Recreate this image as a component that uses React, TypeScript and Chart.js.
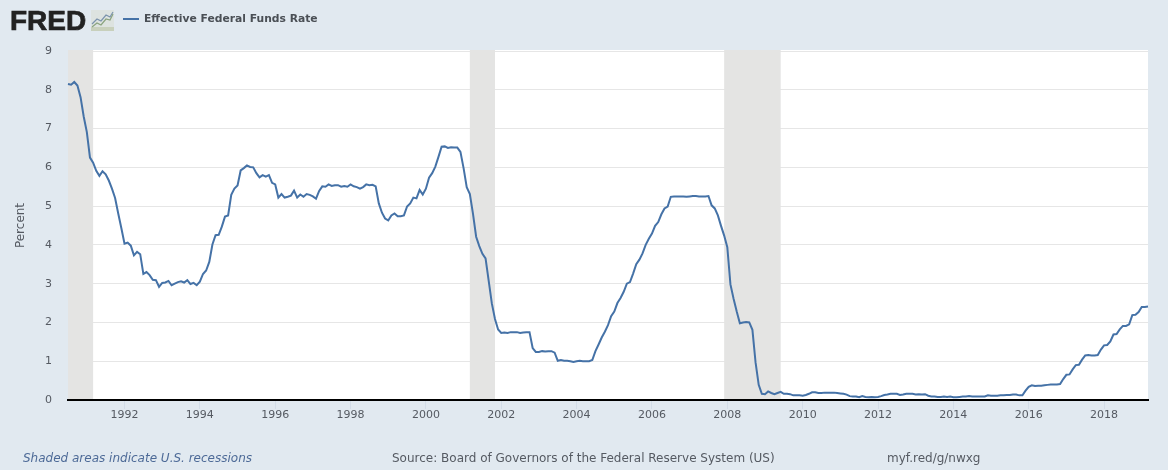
import React, { useEffect, useRef } from "react";
import { Chart, registerables } from "chart.js";

Chart.register(...registerables);

const seriesName = "Effective Federal Funds Rate";
const yAxisTitle = "Percent";
const recessionNote = "Shaded areas indicate U.S. recessions";
const sourceNote = "Source: Board of Governors of the Federal Reserve System (US)";
const shortLink = "myf.red/g/nwxg";

const tickYears = [1992, 1994, 1996, 1998, 2000, 2002, 2004, 2006, 2008, 2010, 2012, 2014, 2016, 2018];
const yTicks = [0, 1, 2, 3, 4, 5, 6, 7, 8, 9];
const recessionStarts = ["1990-07", "2001-03", "2007-12"];
const recessionEnds = ["1991-03", "2001-11", "2009-06"];

const rates = [
  8.15, 8.13, 8.2, 8.11, 7.81, 7.31,
  6.91, 6.25, 6.12, 5.91, 5.78, 5.9, 5.82, 5.66, 5.45, 5.21, 4.81, 4.43,
  4.03, 4.06, 3.98, 3.73, 3.82, 3.76, 3.25, 3.3, 3.22, 3.1, 3.09, 2.92,
  3.02, 3.03, 3.07, 2.96, 3.0, 3.04, 3.06, 3.03, 3.09, 2.99, 3.02, 2.96,
  3.05, 3.25, 3.34, 3.56, 4.01, 4.25, 4.26, 4.47, 4.73, 4.76, 5.29, 5.45,
  5.53, 5.92, 5.98, 6.05, 6.01, 6.0, 5.85, 5.74, 5.8, 5.76, 5.8, 5.6,
  5.56, 5.22, 5.31, 5.22, 5.24, 5.27, 5.4, 5.22, 5.3, 5.24, 5.31, 5.29,
  5.25, 5.19, 5.39, 5.51, 5.5, 5.56, 5.52, 5.54, 5.54, 5.5, 5.52, 5.5,
  5.56, 5.51, 5.49, 5.45, 5.49, 5.56, 5.54, 5.55, 5.51, 5.07, 4.83, 4.68,
  4.63, 4.76, 4.81, 4.74, 4.74, 4.76, 4.99, 5.07, 5.22, 5.2, 5.42, 5.3,
  5.45, 5.73, 5.85, 6.02, 6.27, 6.53, 6.54, 6.5, 6.52, 6.51, 6.51, 6.4,
  5.98, 5.49, 5.31, 4.8, 4.21, 3.97, 3.77, 3.65, 3.07, 2.49, 2.09, 1.82,
  1.73, 1.74, 1.73, 1.75, 1.75, 1.75, 1.73, 1.74, 1.75, 1.75, 1.34, 1.24,
  1.24, 1.26, 1.25, 1.26, 1.26, 1.22, 1.01, 1.03, 1.01, 1.01, 1.0, 0.98,
  1.0, 1.01, 1.0, 1.0, 1.0, 1.03, 1.26, 1.43, 1.61, 1.76, 1.93, 2.16,
  2.28, 2.5, 2.63, 2.79, 3.0, 3.04, 3.26, 3.5, 3.62, 3.78, 4.0, 4.16,
  4.29, 4.49, 4.59, 4.79, 4.94, 4.99, 5.24, 5.25, 5.25, 5.25, 5.25, 5.24,
  5.25, 5.26, 5.26, 5.25, 5.25, 5.25, 5.26, 5.02, 4.94, 4.76, 4.49, 4.24,
  3.94, 2.98, 2.61, 2.28, 1.98, 2.0, 2.01, 2.0, 1.81, 0.97, 0.39, 0.16,
  0.15, 0.22, 0.18, 0.15, 0.18, 0.21, 0.16, 0.16, 0.15, 0.12, 0.12, 0.12,
  0.11, 0.13, 0.16, 0.2, 0.2, 0.18, 0.18, 0.19, 0.19, 0.19, 0.19, 0.18,
  0.17, 0.16, 0.14, 0.1, 0.09, 0.09, 0.07, 0.1, 0.08, 0.07, 0.08, 0.07,
  0.08, 0.1, 0.13, 0.14, 0.16, 0.16, 0.16, 0.13, 0.14, 0.16, 0.16, 0.16,
  0.14, 0.15, 0.14, 0.15, 0.11, 0.09, 0.09, 0.08, 0.08, 0.09, 0.08, 0.09,
  0.07, 0.07, 0.08, 0.09, 0.09, 0.1, 0.09, 0.09, 0.09, 0.09, 0.09, 0.12,
  0.11, 0.11, 0.11, 0.12, 0.12, 0.13, 0.13, 0.14, 0.14, 0.12, 0.12, 0.24,
  0.34, 0.38, 0.36, 0.37, 0.37, 0.38, 0.39, 0.4, 0.4, 0.4, 0.41, 0.54,
  0.65, 0.66, 0.79, 0.9, 0.91, 1.04, 1.15, 1.16, 1.15, 1.15, 1.16, 1.3,
  1.41, 1.42, 1.51, 1.69, 1.7, 1.82, 1.91, 1.91, 1.95, 2.19, 2.2, 2.27,
  2.4, 2.4, 2.41,
];

const months: string[] = [];
for (let i = 0; i < rates.length; i++) {
  const m = 6 + i;
  months.push(`${1990 + Math.floor(m / 12)}-${String((m % 12) + 1).padStart(2, "0")}`);
}

const FONT = '"DejaVu Sans", sans-serif';
const TEXT = "#555a62";

const recessionPlugin = {
  id: "recessions",
  beforeDraw(chart: any) {
    const { ctx, chartArea: a } = chart;
    ctx.save();
    ctx.fillStyle = "#ffffff";
    ctx.fillRect(a.left, a.top - 1, a.right - a.left, a.bottom - a.top + 1);
    ctx.restore();
  },
  beforeDatasetsDraw(chart: any) {
    const { ctx, chartArea: a, scales } = chart;
    ctx.save();
    ctx.fillStyle = "#e4e4e3";
    recessionStarts.forEach((s, i) => {
      const x0 = scales.x.getPixelForValue(months.indexOf(s));
      const x1 = scales.x.getPixelForValue(months.indexOf(recessionEnds[i]));
      ctx.fillRect(x0, a.top - 1, x1 - x0, a.bottom - a.top);
    });
    ctx.restore();
  },
};

const abs = (left: number, top: number, extra: React.CSSProperties = {}): React.CSSProperties => ({
  position: "absolute",
  left,
  top,
  whiteSpace: "nowrap",
  fontFamily: FONT,
  ...extra,
});

export default function App() {
  const ref = useRef<HTMLCanvasElement>(null);
  useEffect(() => {
    document.body.style.margin = "0";
    const chart = new Chart(ref.current!, {
      type: "line",
      data: {
        labels: months,
        datasets: [
          {
            label: seriesName,
            data: rates,
            borderColor: "#4572a7",
            borderWidth: 2,
            pointRadius: 0,
            tension: 0,
            fill: false,
          },
        ],
      },
      plugins: [recessionPlugin],
      options: {
        animation: false,
        responsive: false,
        layout: { padding: { top: 51, right: 20, left: 0, bottom: 0 } },
        plugins: { legend: { display: false }, tooltip: { enabled: false } },
        scales: {
          x: {
            type: "category",
            offset: false,
            afterFit(s: any) {
              s.height = 70;
            },
            afterBuildTicks(s: any) {
              s.ticks = tickYears.map((y) => ({ value: months.indexOf(`${y}-01`) }));
            },
            grid: { drawOnChartArea: false, drawTicks: true, tickLength: 9, color: "#d3dde8" },
            border: { display: true, color: "#000000", width: 2 },
            ticks: {
              autoSkip: false,
              maxRotation: 0,
              padding: 0,
              color: TEXT,
              font: { family: FONT, size: 11 },
              callback(value: any) {
                return months[value].slice(0, 4);
              },
            },
          },
          y: {
            type: "linear",
            min: yTicks[0],
            max: yTicks[yTicks.length - 1],
            afterFit(s: any) {
              s.width = 68;
            },
            afterBuildTicks(s: any) {
              s.ticks = yTicks.map((v) => ({ value: v }));
            },
            border: { display: false },
            grid: {
              drawTicks: false,
              lineWidth: 1,
              color: (c: any) => (c.tick && c.tick.value === 0 ? "rgba(0,0,0,0)" : "#e6e6e6"),
            },
            ticks: {
              padding: 16,
              color: TEXT,
              font: { family: FONT, size: 11 },
            },
            title: {
              display: true,
              text: yAxisTitle,
              color: TEXT,
              font: { family: FONT, size: 12 },
              padding: { top: 14, bottom: 0 },
            },
          },
        },
      } as any,
    });
    return () => chart.destroy();
  }, []);

  return (
    <div style={{ position: "relative", width: 1168, height: 470, background: "#e1e9f0", overflow: "hidden" }}>
      <canvas ref={ref} width={1168} height={470} style={{ position: "absolute", left: 0, top: 0, display: "block" }} />
      <div
        style={abs(10, 5, {
          fontFamily: '"Liberation Sans", sans-serif',
          fontWeight: 700,
          fontSize: 28,
          lineHeight: "32px",
          color: "#222222",
          WebkitTextStroke: "0.7px #222222",
        })}
      >
        FRED
      </div>
      <svg width={23} height={21} style={{ position: "absolute", left: 91, top: 10 }}>
        <rect x={0} y={0} width={23} height={21} fill="#dde3e0" />
        <rect x={0} y={17} width={23} height={4} fill="#c8d0bc" />
        <polyline points="1,17 6,13 10,15 15,9 19,10 22,4" fill="none" stroke="#8aa37e" strokeWidth={1.2} />
        <polyline points="1,14 6,9 10,11 15,5 19,7 22,2" fill="none" stroke="#7b93ac" strokeWidth={1.2} />
      </svg>
      <div style={{ position: "absolute", left: 123, top: 18, width: 16, height: 2, background: "#4572a7" }} />
      <div style={abs(144, 11, { fontSize: 10.75, fontWeight: 700, lineHeight: "16px", color: "#4a4f55" })}>{seriesName}</div>
      <div style={abs(23, 450, { fontSize: 12, fontStyle: "italic", lineHeight: "16px", color: "#4d6a97" })}>{recessionNote}</div>
      <div style={abs(392, 450, { fontSize: 12, lineHeight: "16px", color: TEXT })}>{sourceNote}</div>
      <div style={abs(887, 450, { fontSize: 12, lineHeight: "16px", color: TEXT })}>{shortLink}</div>
    </div>
  );
}
